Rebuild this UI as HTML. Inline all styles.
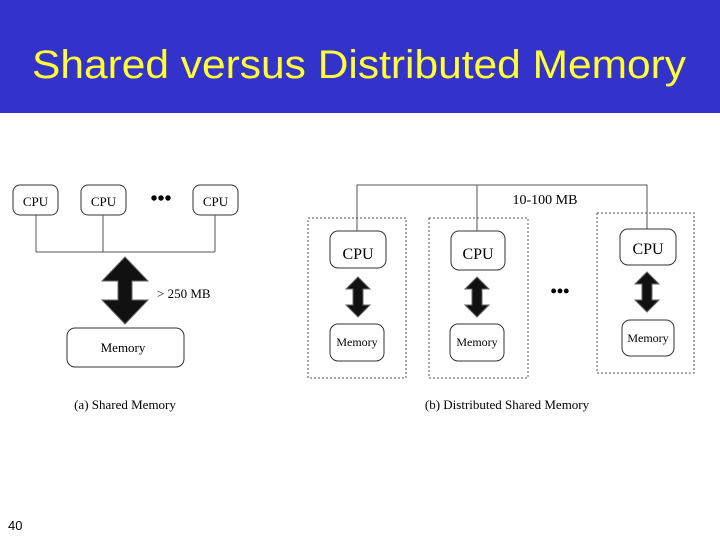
<!DOCTYPE html>
<html><head><meta charset="utf-8"><style>
html,body{margin:0;padding:0;background:#fff;}
svg{display:block;}
</style></head><body>
<svg width="720" height="540" viewBox="0 0 720 540" xmlns="http://www.w3.org/2000/svg">
<defs>
<g id="arr">
<polygon points="0,-20 -12,-8 -5,-8 -5,8 -12,8 0,20 12,8 5,8 5,-8 12,-8" fill="#111" stroke="#666" stroke-width="1"/>
</g>
</defs>
<rect x="0" y="0" width="720" height="113" fill="#3333cc"/>
<text x="32" y="78" font-family="Liberation Sans, sans-serif" font-size="40" fill="#ffff33" textLength="654" lengthAdjust="spacingAndGlyphs">Shared versus Distributed Memory</text>

<g font-family="Liberation Serif, serif" fill="#000">
<!-- left diagram -->
<g fill="#fff" stroke="#333" stroke-width="1">
<rect x="13" y="185" width="45" height="30" rx="7"/>
<rect x="81" y="185" width="45" height="30" rx="7"/>
<rect x="193" y="185" width="45" height="30" rx="7"/>
<rect x="67" y="328" width="117" height="39" rx="8"/>
</g>
<path d="M36 215V252M103 215V252M215 215V252M36 252H215" stroke="#555" fill="none"/>
<text x="35.5" y="206" font-size="13" text-anchor="middle">CPU</text>
<text x="103.5" y="206" font-size="13" text-anchor="middle">CPU</text>
<text x="215.5" y="206" font-size="13" text-anchor="middle">CPU</text>
<text x="161" y="205" font-size="20" text-anchor="middle" font-weight="bold">•••</text>
<polygon points="125,257 102,281 118,281 118,300 102,300 125,324 148,300 132,300 132,281 148,281" fill="#111" stroke="#666"/>
<text x="157" y="298" font-size="13">&gt; 250 MB</text>
<text x="123" y="352" font-size="13" text-anchor="middle">Memory</text>
<text x="125" y="409" font-size="13" text-anchor="middle">(a) Shared Memory</text>

<!-- right diagram -->
<g fill="none" stroke="#555" stroke-dasharray="2,2">
<rect x="308" y="218" width="98" height="160"/>
<rect x="429" y="218" width="99" height="160"/>
<rect x="597" y="213" width="97" height="160"/>
</g>
<path d="M357 231V185H647V229M477 185V231" stroke="#555" fill="none"/>
<g fill="#fff" stroke="#333">
<rect x="330" y="231" width="56" height="37" rx="8"/>
<rect x="451" y="231" width="54" height="39" rx="8"/>
<rect x="620" y="229" width="56" height="36" rx="8"/>
<rect x="330" y="324" width="54" height="37" rx="8"/>
<rect x="450" y="324" width="54" height="37" rx="8"/>
<rect x="622" y="320" width="52" height="36" rx="8"/>
</g>
<text x="358" y="259" font-size="16" text-anchor="middle">CPU</text>
<text x="478" y="259" font-size="16" text-anchor="middle">CPU</text>
<text x="648" y="254" font-size="16" text-anchor="middle">CPU</text>
<text x="357" y="346" font-size="12" text-anchor="middle">Memory</text>
<text x="477" y="346" font-size="12" text-anchor="middle">Memory</text>
<text x="648" y="342" font-size="12" text-anchor="middle">Memory</text>
<use href="#arr" x="358" y="297"/>
<use href="#arr" x="477" y="297"/>
<use href="#arr" x="647" y="292"/>
<text x="560" y="297" font-size="18" text-anchor="middle" font-weight="bold">•••</text>
<text x="545" y="204" font-size="14" text-anchor="middle">10-100 MB</text>
<text x="507" y="409" font-size="13" text-anchor="middle">(b) Distributed Shared Memory</text>
</g>
<text x="8" y="530" font-family="Liberation Sans, sans-serif" font-size="13">40</text>
</svg>
</body></html>
